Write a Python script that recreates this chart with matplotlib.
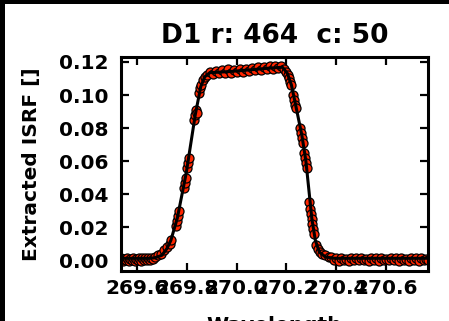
import matplotlib
matplotlib.use("Agg")
import matplotlib.pyplot as plt
from matplotlib.patches import Rectangle

# Measured ISRF samples
wavelength = [
    # short-wavelength wing
    269.538, 269.544, 269.550, 269.556, 269.562, 269.568, 269.574, 269.580,
    269.586, 269.592, 269.598, 269.604, 269.610, 269.616, 269.622, 269.628,
    269.634, 269.640, 269.646, 269.652, 269.658, 269.664,
    # rising edge
    269.672, 269.684, 269.696, 269.708, 269.720, 269.732, 269.736,
    269.756, 269.760, 269.764, 269.768,
    269.788, 269.792, 269.796, 269.800, 269.804, 269.808,
    269.828, 269.832, 269.836, 269.840,
    269.848, 269.852, 269.856, 269.864, 269.872,
    # plateau
    269.880, 269.892, 269.904, 269.916, 269.928, 269.940, 269.952, 269.964,
    269.976, 269.988, 270.000, 270.012, 270.024, 270.036, 270.048, 270.060,
    270.072, 270.084, 270.096, 270.108, 270.120, 270.132, 270.144, 270.156,
    270.168, 270.180,
    # falling edge
    270.192, 270.200, 270.208, 270.212, 270.216, 270.220,
    270.228, 270.232, 270.236, 270.240,
    270.256, 270.260, 270.264, 270.268,
    270.272, 270.276, 270.280, 270.284,
    270.292, 270.296, 270.300, 270.302, 270.304, 270.308, 270.312,
    270.320, 270.328, 270.336, 270.344, 270.356, 270.372,
    # long-wavelength wing
    270.380, 270.390, 270.400, 270.410, 270.420, 270.430, 270.440, 270.450,
    270.460, 270.470, 270.480, 270.490, 270.500, 270.510, 270.520, 270.530,
    270.540, 270.550, 270.560, 270.570, 270.580, 270.590, 270.600, 270.610,
    270.620, 270.630, 270.640, 270.650, 270.660, 270.670, 270.680, 270.690,
    270.700, 270.710, 270.720, 270.730, 270.740, 270.750, 270.760, 270.768,
]
isrf = [
    0.0012, -0.0003, 0.0008, 0.0000, 0.0014, -0.0004, 0.0010, 0.0002,
    0.0013, -0.0002, 0.0009, 0.0001, 0.0015, -0.0003, 0.0011, 0.0003,
    0.0014, 0.0000, 0.0012, 0.0004, 0.0016, 0.0008,
    0.002, 0.003, 0.004, 0.006, 0.008, 0.010, 0.012,
    0.021, 0.024, 0.027, 0.030,
    0.044, 0.047, 0.050, 0.056, 0.059, 0.062,
    0.085, 0.088, 0.091, 0.089,
    0.101, 0.104, 0.106, 0.109, 0.111,
    0.1120, 0.1140, 0.1125, 0.1148, 0.1132, 0.1150, 0.1135, 0.1155,
    0.1136, 0.1152, 0.1140, 0.1158, 0.1142, 0.1160, 0.1146, 0.1165,
    0.1150, 0.1168, 0.1152, 0.1172, 0.1156, 0.1175, 0.1160, 0.1178,
    0.1162, 0.1176,
    0.1160, 0.1140, 0.1120, 0.1100, 0.1080, 0.1060,
    0.100, 0.097, 0.094, 0.092,
    0.080, 0.077, 0.074, 0.071,
    0.065, 0.062, 0.059, 0.056,
    0.035, 0.031, 0.028, 0.025, 0.022, 0.019, 0.016,
    0.009, 0.007, 0.005, 0.004, 0.003, 0.002,
    0.0018, 0.0004, 0.0012, -0.0002, 0.0015, 0.0003, 0.0010, -0.0003,
    0.0014, 0.0002, 0.0011, -0.0001, 0.0016, 0.0004, 0.0009, -0.0002,
    0.0013, 0.0001, 0.0012, -0.0003, 0.0015, 0.0003, 0.0010, -0.0001,
    0.0014, 0.0002, 0.0011, -0.0002, 0.0016, 0.0004, 0.0009, -0.0003,
    0.0013, 0.0001, 0.0012, -0.0002, 0.0015, 0.0003, 0.0010, -0.0001,
]

# Fitted ISRF model
model_wavelength = [
    269.536, 269.652, 269.672, 269.700, 269.720, 269.736, 269.762, 269.798,
    269.834, 269.856, 269.872, 269.892, 269.972, 270.052, 270.132, 270.184,
    270.204, 270.220, 270.234, 270.262, 270.278, 270.302, 270.316, 270.332,
    270.356, 270.392, 270.768,
]
model_isrf = [
    0.0012, 0.0012, 0.0015, 0.003, 0.007, 0.012, 0.0255, 0.053,
    0.088, 0.105, 0.111, 0.1135, 0.1142, 0.1152, 0.1163, 0.1168,
    0.113, 0.106, 0.096, 0.0755, 0.060, 0.025, 0.012, 0.005,
    0.002, 0.0012, 0.0012,
]

x_ticks = [269.6, 269.8, 270.0, 270.2, 270.4, 270.6]
y_ticks = [0.00, 0.02, 0.04, 0.06, 0.08, 0.10, 0.12]

plt.rcParams["font.family"] = ["DejaVu Sans"]
plt.rcParams["font.weight"] = "bold"

W, H = 449, 321
fig = plt.figure(figsize=(W / 100, H / 100), dpi=100, facecolor="white")
ax = fig.add_axes([121 / W, 1 - 271 / H, (428 - 121) / W, (271 - 57) / H])

ax.plot(wavelength, isrf, "o", ms=6.5, mfc="#ff2600", mec="black",
        mew=0.9, zorder=2)
ax.plot(model_wavelength, model_isrf, "-", color="black", lw=2.2, zorder=3)

ax.set_xlim(269.536, 270.768)
ax.set_ylim(-0.0065, 0.123)
ax.set_xticks(x_ticks)
ax.set_xticklabels([f"{t:.1f}" for t in x_ticks])
ax.set_yticks(y_ticks)
ax.set_yticklabels([f"{t:.2f}" for t in y_ticks])

ax.tick_params(axis="both", which="major", direction="in", top=True,
               right=True, length=6, width=1.6, labelsize=14.5)
ax.tick_params(axis="x", pad=6)
ax.tick_params(axis="y", pad=9)
for s in ax.spines.values():
    s.set_linewidth(2.2)

ax.set_title("D1 r: 464  c: 50", fontsize=19, fontweight="bold", pad=10)
ax.set_ylabel("Extracted ISRF []", fontsize=14.5, fontweight="bold",
              labelpad=13)
ax.set_xlabel("Wavelength", fontsize=14.5, fontweight="bold", labelpad=13)

# dark surround along the top and left edges
fig.add_artist(Rectangle((0, 1 - 4 / H), 1, 4 / H, transform=fig.transFigure,
                         facecolor="black", edgecolor="none", zorder=10))
fig.add_artist(Rectangle((0, 0), 5 / W, 1, transform=fig.transFigure,
                         facecolor="black", edgecolor="none", zorder=10))

fig.savefig("out.png", dpi=100, facecolor="white")
